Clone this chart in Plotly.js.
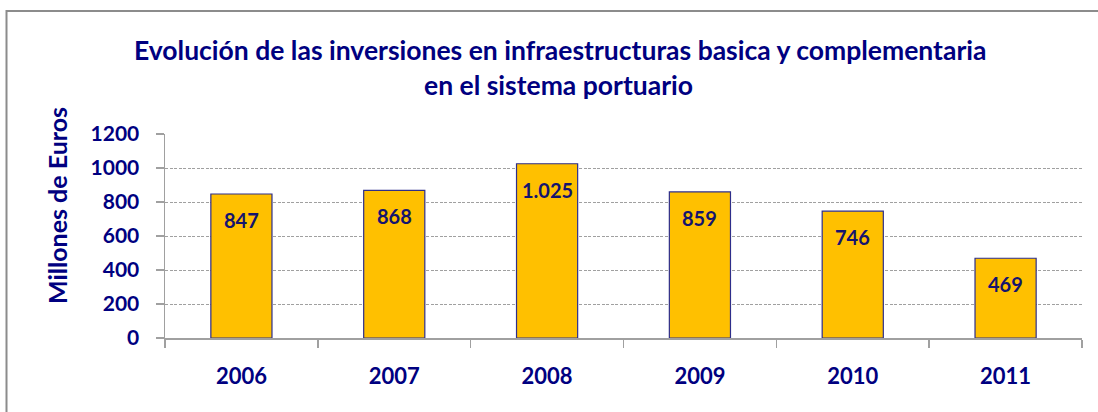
<!DOCTYPE html>
<html>
<head>
<meta charset="utf-8">
<script src="https://cdn.plot.ly/plotly-3.0.1.min.js"></script>
<style>html,body{margin:0;padding:0;background:#fff;}#chart{width:1098px;height:412px;}</style>
</head>
<body>
<div id="chart"></div>
<script>
const years = ['2006', '2007', '2008', '2009', '2010', '2011'];
const inversiones = [847, 868, 1025, 859, 746, 469];
const yTicks = [0, 200, 400, 600, 800, 1000, 1200];
const titleLine1 = 'Evolución de las inversiones en infraestructuras basica y complementaria';
const titleLine2 = 'en el sistema portuario';
const yTitle = 'Millones de Euros';

const NAVY = '#000080';
const FONT = 'Lato, "Open Sans", sans-serif';

function fmt(v) {
  return String(v).replace(/\B(?=(\d{3})+(?!\d))/g, '.');
}

const W = 1098, H = 412;
const L = 165, R = 16, T = 134, B = 74;
const pw = W - L - R, ph = H - T - B;
const px = x => (x - L) / pw;
const py = y => (H - B - y) / ph;

const annotations = years.map((yr, i) => ({
  x: i, y: inversiones[i], xref: 'x', yref: 'y',
  text: fmt(inversiones[i]), showarrow: false,
  yanchor: 'middle', yshift: -26,
  font: {family: FONT, size: 20, color: '#14146E', weight: 'bold'}
}));

annotations.push(
  {xref: 'paper', yref: 'paper', x: px(560), y: py(50), text: titleLine1, showarrow: false,
   xanchor: 'center', yanchor: 'middle', font: {family: FONT, size: 26.5, color: NAVY, weight: 'bold'}},
  {xref: 'paper', yref: 'paper', x: px(558), y: py(85), text: titleLine2, showarrow: false,
   xanchor: 'center', yanchor: 'middle', font: {family: FONT, size: 26.5, color: NAVY, weight: 'bold'}},
  {xref: 'paper', yref: 'paper', x: px(57), y: py(206), text: yTitle, showarrow: false, textangle: -90,
   xanchor: 'center', yanchor: 'middle', font: {family: FONT, size: 25, color: NAVY, weight: 'bold'}}
);

const data = [{
  type: 'bar',
  x: years,
  y: inversiones,
  marker: {color: '#FFC000', line: {color: '#2E2E8A', width: 1.2}},
  hoverinfo: 'skip'
}];

const layout = {
  width: W, height: H,
  margin: {l: L, r: R, t: T, b: B, pad: 0},
  paper_bgcolor: '#ffffff', plot_bgcolor: '#ffffff',
  showlegend: false,
  bargap: 0.6,
  separators: ',.',
  xaxis: {
    type: 'category',
    range: [-0.5, years.length - 0.5],
    autorange: false,
    showgrid: false,
    showline: true, linecolor: '#A0A0A0', linewidth: 1.5,
    ticks: 'outside', tickson: 'boundaries', ticklen: 8, tickcolor: '#A0A0A0', tickwidth: 1.5,
    ticklabelstandoff: 18,
    tickangle: 0,
    tickfont: {family: FONT, size: 22, color: NAVY, weight: 'bold'},
    zeroline: false, fixedrange: true
  },
  yaxis: {
    range: [0, 1200],
    autorange: false,
    tickvals: yTicks,
    ticktext: yTicks.map(String),
    showgrid: true, gridcolor: '#A0A0A0', gridwidth: 1, griddash: '3px,1.5px',
    showline: true, linecolor: '#A0A0A0', linewidth: 1.5,
    ticks: 'outside', ticklen: 8, tickcolor: '#A0A0A0', tickwidth: 1.5,
    ticklabelstandoff: 12,
    tickfont: {family: FONT, size: 21, color: NAVY, weight: 'bold'},
    zeroline: false, fixedrange: true
  },
  annotations: annotations,
  shapes: [{
    type: 'rect', xref: 'paper', yref: 'paper', layer: 'below',
    x0: px(6.5), x1: px(1200), y0: py(11), y1: py(500),
    line: {color: '#8C8C8C', width: 2}, fillcolor: 'rgba(0,0,0,0)'
  }]
};

Plotly.newPlot('chart', data, layout, {displayModeBar: false, staticPlot: true});
</script>
</body>
</html>
